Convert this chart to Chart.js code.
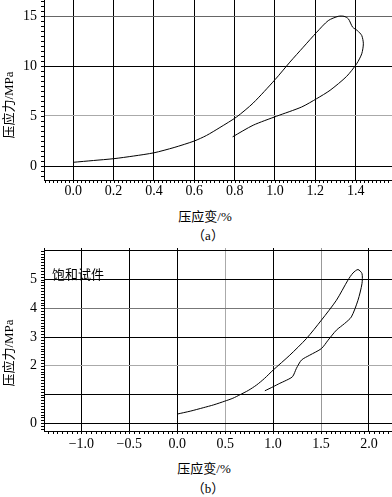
<!DOCTYPE html>
<html>
<head>
<meta charset="utf-8">
<script src="https://cdn.jsdelivr.net/npm/chart.js@4"></script>
<style>
  body { margin: 0; background: #fff; }
  #wrap { position: relative; width: 392px; height: 497px; overflow: hidden; font-family: "Liberation Serif", "Noto Sans CJK SC", serif; color: #000; }
  canvas { position: absolute; left: 0; }
  .lbl { position: absolute; font-size: 13px; white-space: nowrap; transform: translate(-50%, -50%); line-height: 1; }
  .rot { transform: translate(-50%, -50%) rotate(-90deg); }
</style>
</head>
<body>
<div id="wrap">
  <canvas id="chartA" width="392" height="200" style="top:0"></canvas>
  <canvas id="chartB" width="392" height="203" style="top:248px"></canvas>
  <div class="lbl rot" style="left:8px;top:105px">压应力/MPa</div>
  <div class="lbl" style="left:205px;top:216px">压应变/%</div>
  <div class="lbl" style="left:208px;top:235px">（a）</div>
  <div class="lbl" style="left:78px;top:274px">饱和试件</div>
  <div class="lbl rot" style="left:8px;top:353px">压应力/MPa</div>
  <div class="lbl" style="left:204px;top:468px">压应变/%</div>
  <div class="lbl" style="left:208px;top:488px">（b）</div>
</div>
<script>
// (a) strain % / stress MPa, loading then unloading
const strainA = [0, 0.1, 0.2, 0.3, 0.4, 0.5, 0.6, 0.66, 0.727, 0.81, 0.892, 1.0, 1.074, 1.14, 1.207, 1.264, 1.314, 1.342, 1.364, 1.385, 1.408, 1.43, 1.438, 1.43, 1.405, 1.355, 1.273, 1.207, 1.132, 1.008, 0.892, 0.79];
const stressA = [0.37, 0.55, 0.73, 1.0, 1.32, 1.85, 2.5, 3.05, 3.85, 4.91, 6.3, 8.63, 10.39, 11.88, 13.38, 14.54, 14.97, 14.97, 14.71, 13.88, 13.55, 13.05, 12.22, 11.22, 10.23, 8.96, 7.57, 6.74, 5.9, 4.98, 4.08, 2.92];

// (b) saturated specimen
const strainB = [0, 0.135, 0.271, 0.38, 0.497, 0.58, 0.653, 0.74, 0.827, 0.91, 1.0, 1.174, 1.348, 1.504, 1.66, 1.78, 1.833, 1.885, 1.927, 1.927, 1.885, 1.816, 1.745, 1.66, 1.573, 1.504, 1.382, 1.296, 1.243, 1.202, 1.122, 1.07, 1.0, 0.914];
const stressB = [0.32, 0.42, 0.54, 0.64, 0.77, 0.87, 0.99, 1.14, 1.33, 1.56, 1.85, 2.37, 2.95, 3.59, 4.28, 4.98, 5.23, 5.35, 5.21, 4.86, 4.28, 3.7, 3.47, 3.24, 2.89, 2.6, 2.37, 2.2, 1.91, 1.62, 1.47, 1.39, 1.27, 1.13];

const yLabelsA = [0, 5, 10, 15];
const yLabelsB = [0, 2, 3, 4, 5]; // 1 has a grid line but no label

const FONT = { family: '"Liberation Serif", "Noto Sans CJK SC", serif', size: 14 };

// small outward minor ticks on both axes
const minorTicks = {
  id: 'minorTicks',
  afterDraw(chart, args, opts) {
    const { ctx, chartArea } = chart;
    const { x, y } = chart.scales;
    ctx.save();
    ctx.strokeStyle = '#000';
    ctx.lineWidth = 1;
    ctx.beginPath();
    for (let i = Math.ceil(x.min / opts.x); i * opts.x <= x.max; i++) {
      const px = Math.round(x.getPixelForValue(i * opts.x)) + 0.5;
      ctx.moveTo(px, chartArea.bottom);
      ctx.lineTo(px, chartArea.bottom + 3);
    }
    for (let i = Math.ceil(y.min / opts.y); i * opts.y <= y.max; i++) {
      const py = Math.round(y.getPixelForValue(i * opts.y)) + 0.5;
      ctx.moveTo(chartArea.left, py);
      ctx.lineTo(chartArea.left - 3, py);
    }
    ctx.stroke();
    ctx.restore();
  }
};

function noPad(s) {
  s.paddingTop = 0; s.paddingBottom = 0; s.paddingLeft = 0; s.paddingRight = 0;
}

function makeChart(id, xs, ys, cfg) {
  return new Chart(document.getElementById(id), {
    type: 'scatter',
    data: {
      datasets: [{
        data: xs.map((v, i) => ({ x: v, y: ys[i] })),
        showLine: true,
        borderColor: '#000',
        borderWidth: 1,
        pointRadius: 0,
        tension: 0.25
      }]
    },
    options: {
      responsive: false,
      animation: false,
      layout: { padding: 0 },
      plugins: { legend: { display: false }, tooltip: { enabled: false }, minorTicks: cfg.minor },
      scales: {
        x: {
          min: cfg.xMin, max: cfg.xMax,
          afterFit: s => { s.height = cfg.xAxisH; noPad(s); },
          border: { color: '#000', width: 1 },
          grid: { drawTicks: false, color: c => cfg.greyX[c.tick.value] || '#000' },
          ticks: {
            stepSize: cfg.xStep, includeBounds: false, padding: cfg.xPad, color: '#000', font: FONT, maxRotation: 0,
            callback: v => v.toFixed(1).replace('-', '\u2212')
          }
        },
        y: {
          min: cfg.yMin, max: cfg.yMax,
          afterFit: s => { s.width = 44; noPad(s); },
          border: { color: '#000', width: 1 },
          grid: { drawTicks: false, color: c => cfg.greyY[c.tick.value] || '#000' },
          ticks: {
            stepSize: cfg.yStep, includeBounds: false, padding: 7, color: '#000', font: FONT,
            callback: v => cfg.yLabels.includes(v) ? String(v) : ''
          }
        }
      }
    },
    plugins: [minorTicks]
  });
}

makeChart('chartA', strainA, stressA, {
  xMin: -0.145, xMax: 1.58, xStep: 0.2, xPad: 3, xAxisH: 20,
  yMin: -1.4, yMax: 16.6, yStep: 5, yLabels: yLabelsA,
  greyX: {}, greyY: { 15: '#666', 5: '#aaa' },
  minor: { x: 0.02, y: 0.5 }
});

makeChart('chartB', strainB, stressB, {
  xMin: -1.39, xMax: 2.24, xStep: 0.5, xPad: 5, xAxisH: 20,
  yMin: -0.27, yMax: 6.1, yStep: 1, yLabels: yLabelsB,
  greyX: { 0.5: '#aaa', 1.5: '#999' }, greyY: { 4: '#777', 2: '#aaa' },
  minor: { x: 0.05, y: 0.1 }
});
</script>
</body>
</html>
